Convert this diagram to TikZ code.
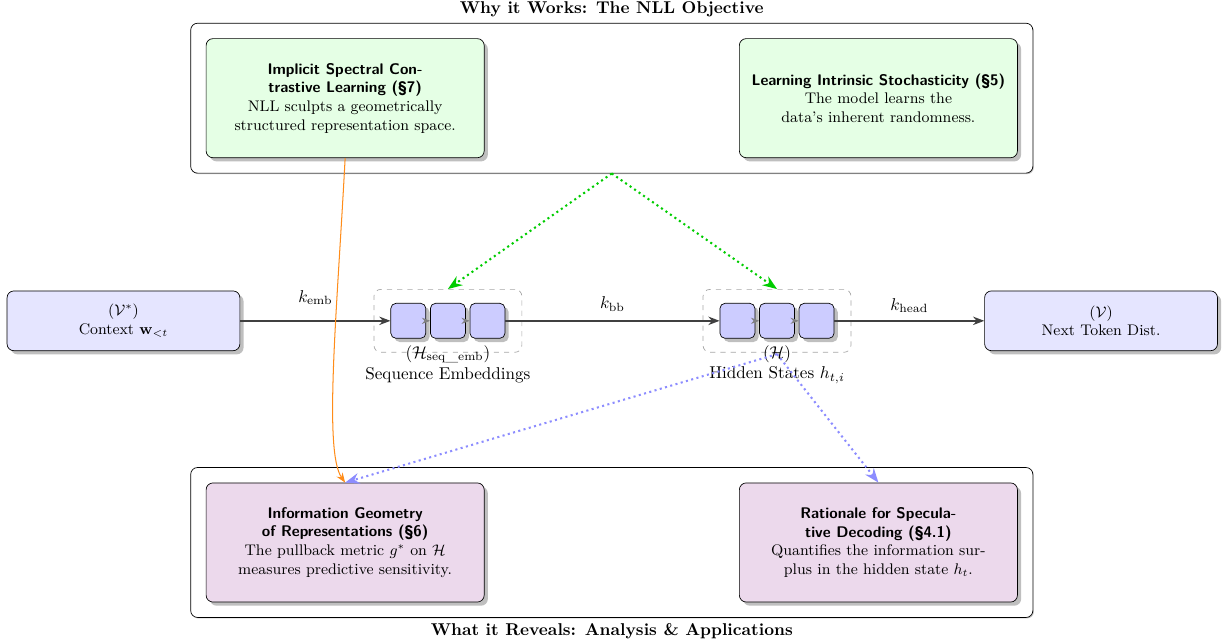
\documentclass[tikz,border=0pt]{standalone}
\usetikzlibrary{positioning,fit,shadows,arrows.meta,backgrounds}
\newcommand{\cardhead}[1]{{\sffamily\bfseries #1}}
\begin{document}
\begin{tikzpicture}[
    card/.style={draw, rounded corners=4pt, align=center, drop shadow, font=\small,
      minimum width=5.72cm, minimum height=2.45cm},
    whycard/.style={card, fill=green!10},
    revealcard/.style={card, fill=violet!15},
    spacebox/.style={draw, rounded corners=4pt, align=center, drop shadow, fill=blue!10,
      font=\small, minimum width=4.79cm, minimum height=1.23cm},
    cell/.style={draw, rounded corners=3pt, fill=blue!20, drop shadow, minimum size=0.72cm},
    groupbox/.style={draw=gray!70, dashed, rounded corners=4pt, inner xsep=0.34cm, inner ysep=0.28cm},
    framebox/.style={draw, rounded corners=4pt, fill=white, inner sep=0.31cm,
      drop shadow={shadow xshift=0.6pt, shadow yshift=-0.6pt, opacity=0.5}},
    map/.style={-Stealth, draw=black!75, line width=0.8pt}
  ]
  \useasboundingbox (0, 0) rectangle (25.2, 13.2);

  % top: why it works
  \node [whycard] (spec) at (7.10, 11.18) {\cardhead{Implicit Spectral Con-}\\\cardhead{trastive Learning (\S7)}\\NLL sculpts a geometrically\\structured representation space.};
  \node [whycard] (stoch) at (18.07, 11.18) {\cardhead{Learning Intrinsic Stochasticity (\S5)}\\The model learns the\\data's inherent randomness.};

  % bottom: what it reveals
  \node [revealcard] (geom) at (7.10, 2.04) {\cardhead{Information Geometry}\\\cardhead{of Representations (\S6)}\\The pullback metric $g^*$ on $\mathcal{H}$\\measures predictive sensitivity.};
  \node [revealcard] (specdec) at (18.07, 2.04) {\cardhead{Rationale for Specula-}\\\cardhead{tive Decoding (\S4.1)}\\Quantifies the information sur-\\plus in the hidden state $h_t$.};

  % middle row
  \node [spacebox] (ctx) at (2.54, 6.60) {($\mathcal{V}^*$)\\Context $\mathbf{w}_{<t}$};
  \node [spacebox] (next) at (22.65, 6.60) {($\mathcal{V}$)\\Next Token Dist.};

  \node [cell] (s1) at (8.40, 6.60) {};
  \node [cell, right=0.08cm of s1] (s2) {};
  \node [cell, right=0.08cm of s2] (s3) {};
  \node [cell] (h1) at (15.17, 6.60) {};
  \node [cell, right=0.08cm of h1] (h2) {};
  \node [cell, right=0.08cm of h2] (h3) {};

  \node [groupbox, fit=(s1) (s3)] (seq) {};
  \node [groupbox, fit=(h1) (h3)] (hid) {};

  \node [below=0.1cm of s2, inner sep=1pt] (seqsym) {($\mathcal{H}_{\mathrm{seq\_emb}}$)};
  \node [below=0pt of seqsym, inner sep=1pt] (seqname) {Sequence Embeddings};
  \node [below=0.1cm of h2, inner sep=1pt] (hsym) {($\mathcal{H}$)};
  \node [below=0pt of hsym, inner sep=1pt] (hname) {Hidden States $h_{t,i}$};

  % frames and titles
  \begin{scope}[on background layer]
    \node [framebox, fit=(spec) (stoch)] (why) {};
    \node [framebox, fit=(geom) (specdec)] (reveal) {};
  \end{scope}
  \node [above=0pt of why, font=\bfseries] (whytitle) {Why it Works: The NLL Objective};
  \node [below=0pt of reveal, font=\bfseries] (revealtitle) {What it Reveals: Analysis \& Applications};

  \draw [-Stealth, gray] (s1) -- (s2);
  \draw [-Stealth, gray] (s2) -- (s3);
  \draw [-Stealth, gray] (h1) -- (h2);
  \draw [-Stealth, gray] (h2) -- (h3);

  \draw [map] (ctx) -- node [above=0.2cm] {$k_{\mathrm{emb}}$} (s1);
  \draw [map] (s3) -- node [above=0.07cm] {$k_{\mathrm{bb}}$} (h1);
  \draw [map] (h3) -- node [above=0.03cm] {$k_{\mathrm{head}}$} (next);

  % objective shapes the spaces
  \draw [-Stealth, green!80!black, very thick, dotted] (why.south) -- (seq.north);
  \draw [-Stealth, green!80!black, very thick, dotted] (why.south) -- (hid.north);
  \draw [-Stealth, orange!90, semithick] (spec.south) to [out=-93, in=125, out looseness=1.2, in looseness=0.3] (geom.north);
  \draw [-Stealth, blue!45, very thick, dotted] (hsym.center) -- (geom.north);
  \draw [-Stealth, blue!45, very thick, dotted] (hsym.center) -- (specdec.north);
\end{tikzpicture}
\end{document}
